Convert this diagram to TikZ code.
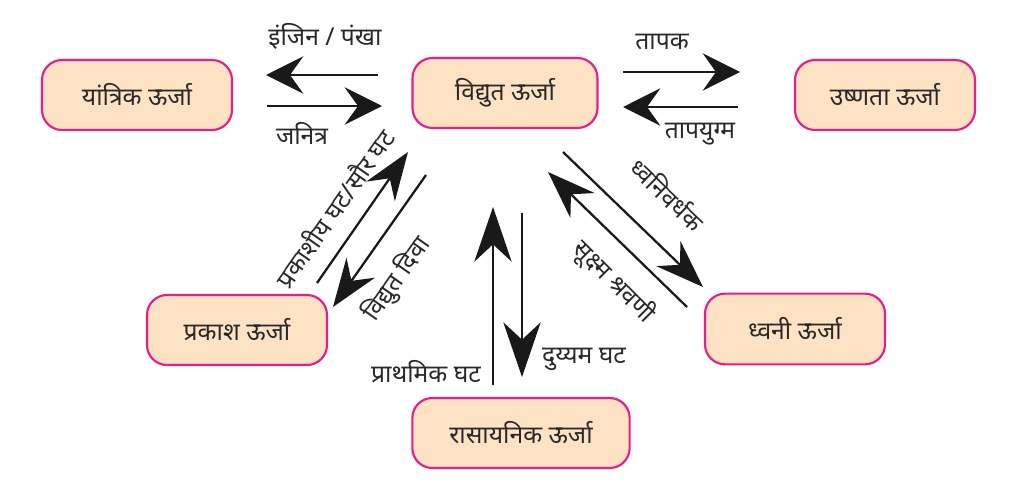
\documentclass[tikz,border=0pt]{standalone}
\usepackage{fontspec}
\newfontfamily\dev[Script=Devanagari]{Noto Sans}
\usetikzlibrary{arrows.meta}
\definecolor{boxpink}{RGB}{232,28,138}
\definecolor{boxfill}{RGB}{253,226,196}
\definecolor{txt}{RGB}{40,40,40}
\begin{document}
\begin{tikzpicture}[x=0.75pt,y=-0.75pt,
  box/.style={draw=boxpink, fill=boxfill, line width=1.6pt, rounded corners=15pt,
    inner sep=0pt, text=txt, font=\dev\fontsize{18.5}{21}\selectfont},
  lbl/.style={text=txt, inner sep=0pt, font=\dev\fontsize{18.5}{21}\selectfont},
  harr/.style={line width=1.7pt, draw=black!90, -{Stealth[length=28pt,width=28pt,inset=10pt]}},
  darr/.style={line width=1.7pt, draw=black!90, -{Stealth[length=36pt,width=26pt,inset=12pt]}},
  varr/.style={line width=1.7pt, draw=black!90, -{Stealth[length=41pt,width=28pt,inset=13pt]}}]
\useasboundingbox (0,0) rectangle (1024,493);

\node[box, minimum width=142.5pt, minimum height=52.5pt] (yant) at (137,95) {यांत्रिक ऊर्जा};
\node[box, minimum width=138.75pt, minimum height=52.5pt] (vid) at (505,93) {विद्युत ऊर्जा};
\node[box, minimum width=135pt, minimum height=52.5pt] (ushn) at (885,95) {उष्णता ऊर्जा};
\node[box, minimum width=135pt, minimum height=52.5pt] (prak) at (237,330) {प्रकाश ऊर्जा};
\node[box, minimum width=135pt, minimum height=53pt] (dhv) at (795,329) {ध्वनी ऊर्जा};
\node[box, minimum width=163pt, minimum height=52.5pt] (ras) at (521,433) {रासायनिक ऊर्जा};

% horizontal left
\coordinate (a1s) at (378,75); \coordinate (a1e) at (266,75);
\coordinate (a2s) at (267,106); \coordinate (a2e) at (382,106);
\draw[harr] (a1s) -- (a1e);
\draw[harr] (a2s) -- (a2e);
\node[lbl] (l1) at (325,36) {इंजिन / पंखा};
\node[lbl] (l2) at (302,133) {जनित्र};

% horizontal right
\coordinate (a3s) at (623,72); \coordinate (a3e) at (740,72);
\coordinate (a4s) at (738,107); \coordinate (a4e) at (623,107);
\draw[harr] (a3s) -- (a3e);
\draw[harr] (a4s) -- (a4e);
\node[lbl] (l3) at (662,42) {तापक};
\node[lbl] (l4) at (700,134) {तापयुग्म};

% left diagonal
\coordinate (b1s) at (317,283); \coordinate (b1e) at (408,152);
\coordinate (b2s) at (426,175); \coordinate (b2e) at (333,307);
\draw[darr] (b1s) -- (b1e);
\draw[darr] (b2s) -- (b2e);
\node[lbl, rotate=55] (l5) at (334,208) {प्रकाशीय घट/सौर घट};
\node[lbl, rotate=55] (l6) at (397,279) {विद्युत दिवा};

% vertical
\coordinate (c1s) at (493,385); \coordinate (c1e) at (493,207);
\coordinate (c2s) at (522,213); \coordinate (c2e) at (522,377);
\draw[varr] (c1s) -- (c1e);
\draw[varr] (c2s) -- (c2e);
\node[lbl] (l7) at (426,372) {प्राथमिक घट};
\node[lbl] (l8) at (584,359) {दुय्यम घट};

% right diagonal
\coordinate (d1s) at (563,152); \coordinate (d1e) at (703,287);
\coordinate (d2s) at (687,307); \coordinate (d2e) at (548,172);
\draw[darr] (d1s) -- (d1e);
\draw[darr] (d2s) -- (d2e);
\node[lbl, rotate=-44] (l9) at (668,194) {ध्वनिवर्धक};
\node[lbl, rotate=-45] (l10) at (614,282) {सूक्ष्म श्रवणी};
\end{tikzpicture}
\end{document}
